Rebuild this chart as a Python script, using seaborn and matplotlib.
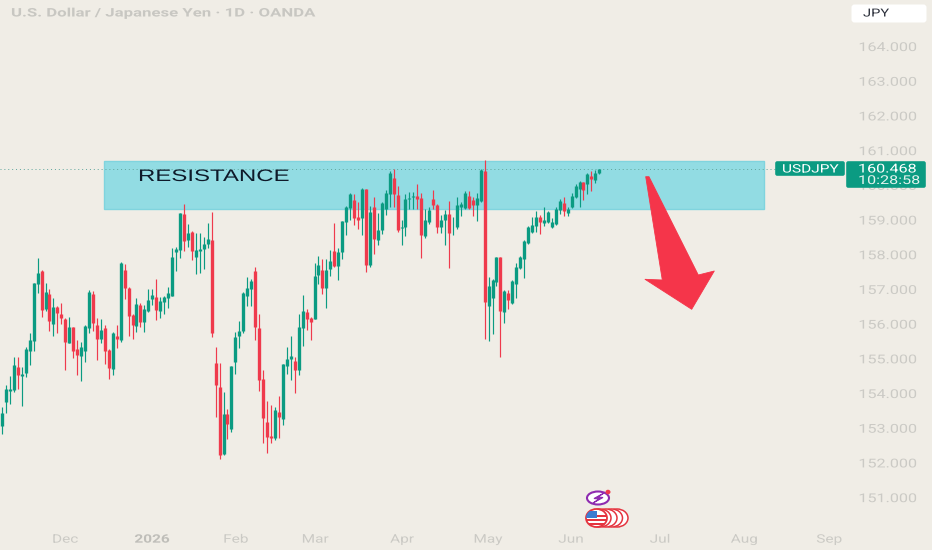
import matplotlib
matplotlib.use("Agg")
import numpy as np
import pandas as pd
import matplotlib.pyplot as plt
import matplotlib.patheffects as pe
from matplotlib.patches import Rectangle, Polygon, Ellipse, FancyBboxPatch
from matplotlib.transforms import Affine2D
import seaborn as sns

# USD/JPY daily candles
opens = [153.05,153.74,154.06,154.09,154.76,154.50,154.57,155.22,155.50,157.14,157.52,156.41,156.86,155.99,156.49,156.29,
         156.12,155.45,155.89,155.27,155.07,155.22,155.86,156.84,155.96,155.57,155.88,155.23,154.70,155.64,155.53,157.54,
         157.03,156.26,155.93,156.53,156.06,156.37,156.71,156.76,156.37,156.63,156.75,156.81,158.07,158.12,159.15,158.41,
         158.64,157.91,158.09,158.14,158.29,158.41,154.87,154.18,152.24,153.39,152.95,154.90,155.64,155.78,156.80,156.99,
         157.52,155.86,154.39,153.17,152.76,152.70,153.45,153.24,154.78,154.97,154.93,154.66,155.86,156.33,156.15,156.14,
         157.40,157.54,157.04,157.56,158.09,157.66,158.06,158.92,159.32,159.56,159.06,159.03,159.87,157.69,159.35,158.41,
         158.69,159.31,159.73,160.19,159.71,158.76,158.79,159.59,159.64,159.68,159.62,158.52,158.93,159.59,159.42,158.78,
         159.00,159.17,158.83,158.77,159.35,159.32,159.67,159.56,159.43,159.54,160.40,156.51,156.73,157.21,157.91,156.33,
         156.87,156.58,157.14,157.59,157.85,158.31,158.64,158.81,159.06,158.91,158.93,158.79,158.87,159.27,159.48,159.19,
         159.35,159.64,159.87,160.08,160.02,160.25,160.14,160.35]
highs = [153.61,154.23,154.49,155.05,155.03,154.76,155.32,155.72,157.18,157.88,157.54,157.18,156.99,156.73,156.51,156.58,
         156.15,156.18,155.91,155.53,155.48,155.97,156.97,156.94,156.15,156.12,155.96,155.26,155.75,155.96,157.78,157.72,
         157.05,156.28,156.73,156.58,156.54,156.99,157.01,157.30,156.78,156.80,157.05,158.17,158.20,159.18,159.45,158.87,
         158.68,158.60,158.60,158.51,158.91,159.22,155.33,154.87,154.04,153.53,154.79,155.77,156.08,156.92,157.33,157.30,
         157.64,156.29,154.66,153.76,153.65,153.60,153.91,154.85,155.33,155.64,155.04,156.27,156.82,156.43,156.20,157.75,
         157.96,157.86,157.85,158.12,158.89,158.17,158.96,159.39,159.75,159.73,159.51,159.90,159.87,159.39,159.66,159.19,
         159.51,159.85,160.40,160.47,159.96,159.00,159.73,159.80,159.80,160.02,159.77,159.29,159.37,159.85,159.46,159.13,
         159.27,159.52,159.08,159.64,159.51,159.83,159.83,159.66,159.77,160.45,160.71,157.33,157.30,157.91,157.93,156.97,
         156.97,157.27,157.75,157.95,158.41,158.81,159.08,159.25,159.12,159.35,159.25,159.03,159.37,159.58,159.64,159.37,
         159.75,160.02,160.12,160.09,160.35,160.40,160.42,160.47]
lows = [152.82,153.41,153.68,154.04,154.12,153.63,154.45,154.81,155.22,156.87,156.20,156.37,155.80,155.64,155.72,155.99,
        154.66,155.43,155.02,154.51,154.35,154.90,155.74,155.79,154.95,155.45,154.84,154.41,154.52,155.30,155.48,156.70,
        155.64,155.56,155.76,155.91,155.76,156.34,156.54,156.10,156.16,156.28,156.45,156.80,157.51,157.89,158.09,158.22,
        157.83,157.43,157.47,157.58,158.17,155.60,153.30,152.09,152.21,152.68,152.88,154.56,155.30,155.72,156.52,156.50,
        155.52,154.06,152.55,152.28,152.57,152.64,152.70,153.07,154.54,154.37,153.99,154.52,155.35,155.81,155.54,156.12,
        157.14,156.85,156.45,157.37,157.64,157.27,157.87,158.56,159.00,158.85,158.72,158.56,157.50,157.64,158.02,158.27,
        158.58,159.12,159.35,159.35,158.65,158.26,158.53,159.30,159.30,159.29,157.89,158.48,158.87,159.29,158.60,158.60,
        158.27,157.59,158.54,158.73,159.11,159.30,159.29,159.10,158.96,159.51,155.56,155.49,155.70,157.08,155.03,156.02,
        156.42,156.56,156.73,157.56,157.31,158.29,158.62,158.64,158.58,158.81,158.91,158.75,158.85,159.17,159.10,159.10,
        159.32,159.61,159.35,159.56,159.73,159.83,160.06,160.31]
closes = [153.41,154.13,154.13,154.81,154.52,154.54,155.26,155.53,157.16,157.47,156.39,156.92,156.07,156.47,156.30,156.16,
          155.47,155.89,155.22,155.10,155.34,155.94,156.92,156.03,155.57,155.83,155.20,154.71,155.72,155.57,157.74,157.03,
          156.22,155.95,156.56,156.05,156.41,156.68,156.83,156.39,156.65,156.76,156.87,157.93,158.16,159.18,158.39,158.62,
          158.10,158.12,158.14,158.29,158.43,155.72,154.22,152.20,153.39,153.10,154.78,155.60,155.78,156.87,157.04,157.24,
          155.89,154.37,153.27,152.72,152.70,153.51,153.30,154.83,154.98,155.07,154.66,155.91,156.36,156.12,156.04,157.37,
          157.69,157.04,157.54,157.81,157.66,158.07,158.96,159.35,159.73,159.03,158.98,159.88,157.69,159.22,158.43,158.69,
          159.48,159.77,160.33,159.73,158.71,158.77,159.60,159.63,159.67,159.59,158.56,158.98,159.27,159.43,158.79,158.98,
          159.16,158.62,158.84,159.42,159.46,159.77,159.33,159.42,159.61,160.44,156.63,157.08,157.27,157.91,156.35,156.95,
          156.68,157.23,157.64,157.91,158.39,158.77,158.85,159.07,158.93,159.00,159.21,158.92,159.31,159.53,159.24,159.29,
          159.67,159.96,160.08,159.85,160.31,160.17,160.35,160.468]

price_ticks = list(range(151, 165))
date_pos = [16.0, 37.9, 59.1, 79.2, 101.1, 122.9, 143.8, 166.3, 187.6, 209.1]
date_labels = ["Dec", "2026", "Feb", "Mar", "Apr", "May", "Jun", "Jul", "Aug", "Sep"]
resist_low, resist_high = 159.30, 160.686
resist_from, resist_to = 25.8, 192.6

BG = "#F0EDE6"
GREEN = "#0B9B82"
RED = "#EF3A4C"
GREY = "#CBCAC5"
SX = 1.32  # the source screenshot is stretched sideways


class Wide(pe.AbstractPathEffect):
    """Stretch glyphs horizontally, text stays a normal Text artist."""
    def __init__(self, sx=SX, center=False):
        super().__init__()
        self.sx, self.center = sx, center

    def draw_path(self, renderer, gc, tpath, affine, rgbFace=None):
        cx = tpath.get_extents().x0 + tpath.get_extents().width / 2 if self.center else 0
        t = Affine2D().translate(-cx, 0).scale(self.sx, 1).translate(cx, 0)
        renderer.draw_path(gc, tpath, t + affine, rgbFace)


sns.set_theme(style="white", rc={"axes.facecolor": BG, "figure.facecolor": BG,
                                 "lines.solid_capstyle": "butt"})
plt.rcParams["font.family"] = ["Roboto", "DejaVu Sans"]

df = pd.DataFrame({"candle": np.arange(len(opens)), "open": opens, "high": highs,
                   "low": lows, "close": closes})
df["dir"] = np.where(df["close"] >= df["open"], "up", "down")
colors = {"up": GREEN, "down": RED}
wicks = df.melt(id_vars=["candle", "dir"], value_vars=["high", "low"], value_name="price")
bodies = df.melt(id_vars=["candle", "dir"], value_vars=["open", "close"], value_name="price")

fig = plt.figure(figsize=(9.32, 5.5), dpi=100)
ax = fig.add_axes([0, 0, 1, 1])
ax.set_xlim(-0.506, 235.1)
ax.set_ylim(149.476, 165.326)

ax.add_patch(Rectangle((resist_from, resist_low), resist_to - resist_from, resist_high - resist_low,
                       facecolor="#92DCE3", edgecolor="#80D4DE", lw=1, zorder=1))
ax.plot([-0.506, 196], [closes[-1]] * 2, color="#5FA59C", lw=0.7, ls=(0, (1, 3)), zorder=1.5)

sns.lineplot(data=wicks, x="candle", y="price", hue="dir", units="candle", estimator=None, sort=False,
             palette=colors, lw=0.85, legend=False, ax=ax, zorder=2)
sns.lineplot(data=bodies, x="candle", y="price", hue="dir", units="candle", estimator=None, sort=False,
             palette=colors, lw=2.4, legend=False, ax=ax, zorder=3)

ax.set_xlabel("")
ax.set_ylabel("")
sns.despine(ax=ax, left=True, bottom=True)
ax.set_axisbelow(True)
ax.grid(False)
ax.set_yticks(price_ticks)
ax.set_yticklabels([f"{p}.000" for p in price_ticks])
ax.yaxis.tick_right()
ax.tick_params(axis="y", length=0, pad=-53, labelsize=8.8, labelcolor=GREY)
ax.set_xticks(date_pos)
ax.set_xticklabels(date_labels)
ax.tick_params(axis="x", length=0, pad=-12.5, labelsize=8.4, labelcolor=GREY)
for lab in ax.get_yticklabels():
    lab.set_path_effects([Wide()])
for lab in ax.get_xticklabels():
    lab.set_path_effects([Wide(center=True)])
    if lab.get_text() == "2026":
        lab.set_fontweight("bold")
        lab.set_color("#BFBEB9")

# overlay in picture pixels for the drawn annotations
ov = fig.add_axes([0, 0, 1, 1], facecolor="none")
ov.set_xlim(0, 932)
ov.set_ylim(550, 0)
ov.axis("off")


def label(x, y, s, size, color, **kw):
    return ov.text(x, y, s, fontsize=size, color=color, va="center", ha="left",
                   path_effects=[Wide(kw.pop("sx", SX))], **kw)


label(11, 13, "U.S. Dollar / Japanese Yen · 1D · OANDA", 8.5, "#C8C7C2", fontweight="bold", sx=1.42)
label(138, 176.5, "RESISTANCE", 12, "#0E1A2A", family="Liberation Sans", sx=1.44)

ov.add_patch(FancyBboxPatch((853, 6), 72, 15, boxstyle="round,pad=1.5,rounding_size=3", fc="white", ec="none"))
label(863, 13.5, "JPY", 8, "#2A2E39")

ov.add_patch(FancyBboxPatch((776, 162), 68, 13, boxstyle="round,pad=0.8,rounding_size=2", fc=GREEN, ec="none"))
ov.add_patch(FancyBboxPatch((847, 162), 78, 25, boxstyle="round,pad=0.8,rounding_size=2", fc=GREEN, ec="none", zorder=5))
label(782, 169, "USDJPY", 8.4, "white")
label(858, 169, "160.468", 8.8, "white", zorder=6)
label(858, 180.5, "10:28:58", 8.8, "#E4F3EE", zorder=6)

ov.add_patch(Polygon([(645.7, 176.7), (649, 176.7), (698.3, 275), (714.3, 271), (691.7, 309.3),
                      (645, 279.3), (662.3, 280)], closed=True, fc="#F5354A", ec="#F5354A", lw=0.6, joinstyle="round", zorder=4))

# event icons near the bottom
ov.add_patch(Ellipse((598, 498), 22, 13, fc="white", ec="#8E2BB0", lw=1.5))
ov.add_patch(Ellipse((608, 492), 5, 4.5, fc=RED, ec="none", zorder=3))
ov.add_patch(Polygon([(604, 493), (594, 498.5), (599, 499), (593, 503), (603, 497.5), (598, 497)],
                     closed=True, fc="#8E2BB0", ec="#8E2BB0", lw=0.8, zorder=3))
for cx in [619, 613.5, 608, 602]:
    ov.add_patch(Ellipse((cx - 2, 518), 22, 18, fc="white", ec="#E5343F", lw=1.1, zorder=3))
front = Ellipse((596.5, 518), 21, 18, fc="white", ec="#E5343F", lw=1.3, zorder=4)
ov.add_patch(front)
for y in [515, 519, 523]:
    bar = Rectangle((586, y), 22, 1.8, fc="#E5343F", ec="none", zorder=4.1)
    ov.add_patch(bar)
    bar.set_clip_path(front)
canton = Rectangle((586, 511), 11, 7, fc="#3C7BD0", ec="none", zorder=4.2)
ov.add_patch(canton)
canton.set_clip_path(front)

fig.savefig("out.png", dpi=100, facecolor=BG)
